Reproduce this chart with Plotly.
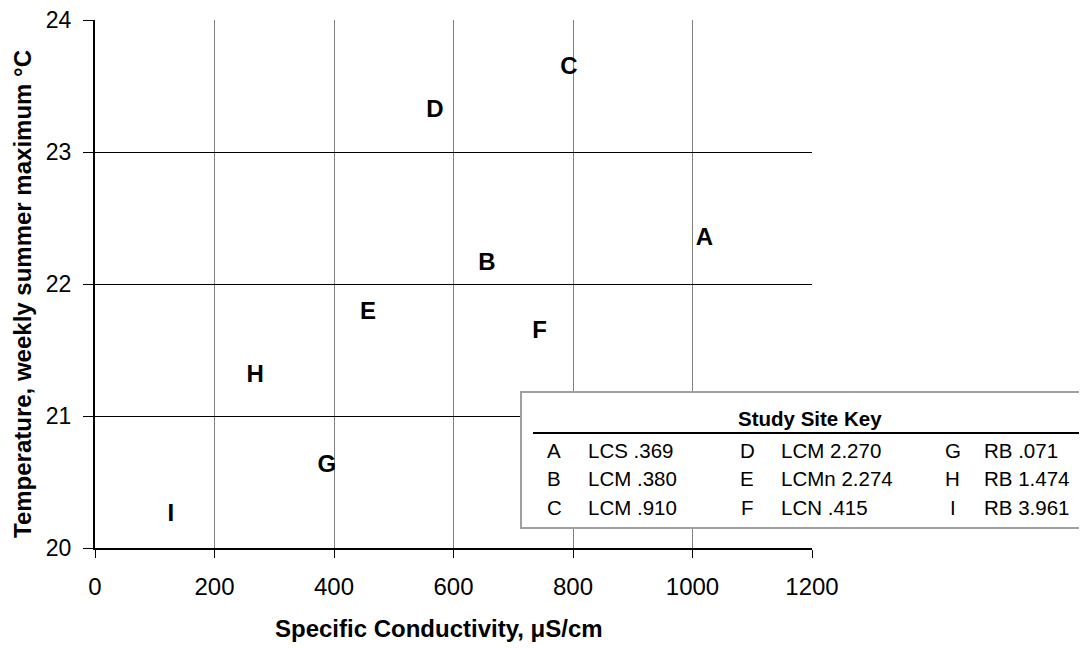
import plotly.graph_objects as go

# Data
site_letters = ["A", "B", "C", "D", "E", "F", "G", "H", "I"]
conductivity = [1020, 656, 793, 569, 457, 744, 388, 268, 127]
temperature = [22.34, 22.15, 23.64, 23.31, 21.78, 21.64, 20.62, 21.30, 20.25]
site_names = ["LCS .369", "LCM .380", "LCM .910", "LCM 2.270", "LCMn 2.274",
              "LCN .415", "RB .071", "RB 1.474", "RB 3.961"]
x_ticks = [0, 200, 400, 600, 800, 1000, 1200]
y_ticks = [20, 21, 22, 23, 24]
x_title = "<b>Specific Conductivity, μS/cm</b>"
y_title = "<b>Temperature, weekly summer maximum °C</b>"
key_title = "<b>Study Site Key</b>"

FONT = "Liberation Sans, Arial, sans-serif"
W, H = 1087, 648
OFF = 8  # page body margin
# plot area in screenshot coordinates
SX0, SX1, SY0, SY1 = 95, 812, 20, 548
L, T = SX0 - OFF, SY0 - OFF
R = W - (SX1 - OFF)
B = H - (SY1 - OFF)
PW, PH = SX1 - SX0, SY1 - SY0


def px(xs):
    return (xs - SX0) / PW


def py(ys):
    return (SY1 - ys) / PH


fig = go.Figure()
fig.add_trace(go.Scatter(
    x=conductivity, y=temperature, text=site_letters, mode="text",
    textfont=dict(family=FONT, size=24, color="black", weight="bold"),
    textposition="middle center", hoverinfo="skip", showlegend=False))

shapes = [
    dict(type="rect", xref="paper", yref="paper", x0=px(521), x1=px(1097),
         y0=py(528), y1=py(392), line=dict(color="#a0a0a0", width=2),
         fillcolor="white", layer="above"),
    dict(type="line", xref="paper", yref="paper", x0=px(533), x1=px(1097),
         y0=py(433), y1=py(433), line=dict(color="black", width=2), layer="above"),
]

annotations = [
    dict(text=key_title, xref="paper", yref="paper", x=px(810), y=py(419),
         showarrow=False, font=dict(family=FONT, size=20.5, color="black"),
         xanchor="center", yanchor="middle"),
    dict(text=x_title, xref="paper", yref="paper", x=px(273), y=py(628),
         showarrow=False, font=dict(family=FONT, size=24, color="black"),
         xanchor="left", yanchor="middle"),
    dict(text=y_title, xref="paper", yref="paper", x=px(22), y=py(294),
         showarrow=False, textangle=-90, font=dict(family=FONT, size=24, color="black"),
         xanchor="center", yanchor="middle"),
]
row_y = [450, 478, 507]
letter_x = [554, 747, 953]
name_x = [586, 779, 982]
for i, (let, name) in enumerate(zip(site_letters, site_names)):
    col, row = divmod(i, 3)
    annotations.append(dict(text=let, xref="paper", yref="paper", x=px(letter_x[col]),
                            y=py(row_y[row]), showarrow=False, xanchor="center",
                            yanchor="middle", font=dict(family=FONT, size=20.5, color="black")))
    annotations.append(dict(text=name, xref="paper", yref="paper", x=px(name_x[col]),
                            y=py(row_y[row]), showarrow=False, xanchor="left",
                            yanchor="middle", font=dict(family=FONT, size=20.5, color="black")))

fig.update_layout(
    width=W, height=H, margin=dict(l=L, r=R, t=T, b=B, autoexpand=False),
    plot_bgcolor="white", paper_bgcolor="white",
    font=dict(family=FONT, size=18, color="black"),
    shapes=shapes, annotations=annotations,
    xaxis=dict(range=[0, 1200], tickvals=x_ticks, showgrid=True, gridcolor="#808080",
               gridwidth=1, showline=True, linecolor="black", linewidth=2,
               ticks="outside", ticklen=8, tickcolor="black", zeroline=False,
               tickfont=dict(size=24), ticklabelstandoff=8, automargin=False,
               ticklabeloverflow="allow"),
    yaxis=dict(range=[20, 24], tickvals=y_ticks, showgrid=True, gridcolor="black",
               gridwidth=1, showline=True, linecolor="black", linewidth=2,
               ticks="outside", ticklen=10, tickcolor="black", zeroline=False,
               tickfont=dict(size=23), ticklabelstandoff=7, automargin=False,
               ticklabeloverflow="allow"),
)
fig.write_html("out.html")
